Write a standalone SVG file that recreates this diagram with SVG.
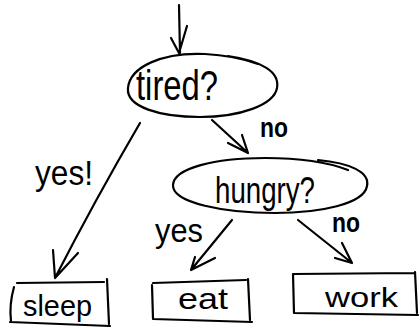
<svg xmlns="http://www.w3.org/2000/svg" width="420" height="328" viewBox="0 0 420 328">
<style>
.s{fill:none;stroke:#000;stroke-width:2.2;stroke-linecap:round;stroke-linejoin:round}
.t{font-family:"Liberation Sans","DejaVu Sans",sans-serif;fill:#000}
.b{font-weight:bold}
</style>
<rect width="420" height="328" fill="#fff"/>
<g id="tired">
<path class="s" d="M 228 56 C 262 61 280 72 277 88 C 274 105 240 117 200 117 C 160 117 126 107 128 88 C 130 67 162 52 205 54 C 226 55 244 59 258 64"/>
<text class="t" x="136" y="100" font-size="43" textLength="82" lengthAdjust="spacingAndGlyphs">tired?</text>
</g>
<g id="hungry">
<path class="s" d="M 318 160 C 350 163 370 172 367 186 C 364 204 320 213 275 213 C 225 213 172 203 173 185 C 174 168 215 158 265 158 C 300 158 330 163 348 170"/>
<text class="t" x="215" y="203" font-size="36" textLength="100" lengthAdjust="spacingAndGlyphs">hungry?</text>
</g>
<g id="sleep">
<path class="s" d="M 17 283 L 104 282 M 107 279 L 109 324 M 14 287 Q 9 305 11 321 M 10 322 L 110 326"/>
<text class="t" x="23" y="316" font-size="29" textLength="69" lengthAdjust="spacingAndGlyphs">sleep</text>
</g>
<g id="eat">
<path class="s" d="M 153 283 L 246 280 M 248 279 L 250 320 M 152 285 L 153 319 M 153 319 L 252 322"/>
<text class="t" x="178" y="309" font-size="30" textLength="50" lengthAdjust="spacingAndGlyphs">eat</text>
</g>
<g id="work">
<path class="s" d="M 293 274 L 415 273 M 415 272 L 417 313 M 293 274 L 294 313 M 294 313 L 418 315"/>
<text class="t" x="325" y="307" font-size="28" textLength="73" lengthAdjust="spacingAndGlyphs">work</text>
</g>
<g id="connectors">
<path class="s" d="M 179 5 L 180 53 M 171 38 L 179 53 L 187 26"/>
<path class="s" d="M 140 123 Q 95 200 55 278 M 53 250 L 55 278 L 78 253"/>
<path class="s" d="M 212 120 L 248 153 M 228 143 L 248 153 L 242 135"/>
<path class="s" d="M 232 220 L 191 270 M 195 257 L 191 270 L 215 258"/>
<path class="s" d="M 298 220 L 352 263 M 342 243 L 352 263 L 335 258"/>
</g>
<g id="labels">
<text class="t" x="35" y="185" font-size="35" textLength="58" lengthAdjust="spacingAndGlyphs">yes!</text>
<text class="t b" x="260" y="137" font-size="27" textLength="28" lengthAdjust="spacingAndGlyphs">no</text>
<text class="t" x="155" y="242" font-size="33" textLength="48" lengthAdjust="spacingAndGlyphs">yes</text>
<text class="t b" x="332" y="232" font-size="27" textLength="28" lengthAdjust="spacingAndGlyphs">no</text>
</g>
</svg>
